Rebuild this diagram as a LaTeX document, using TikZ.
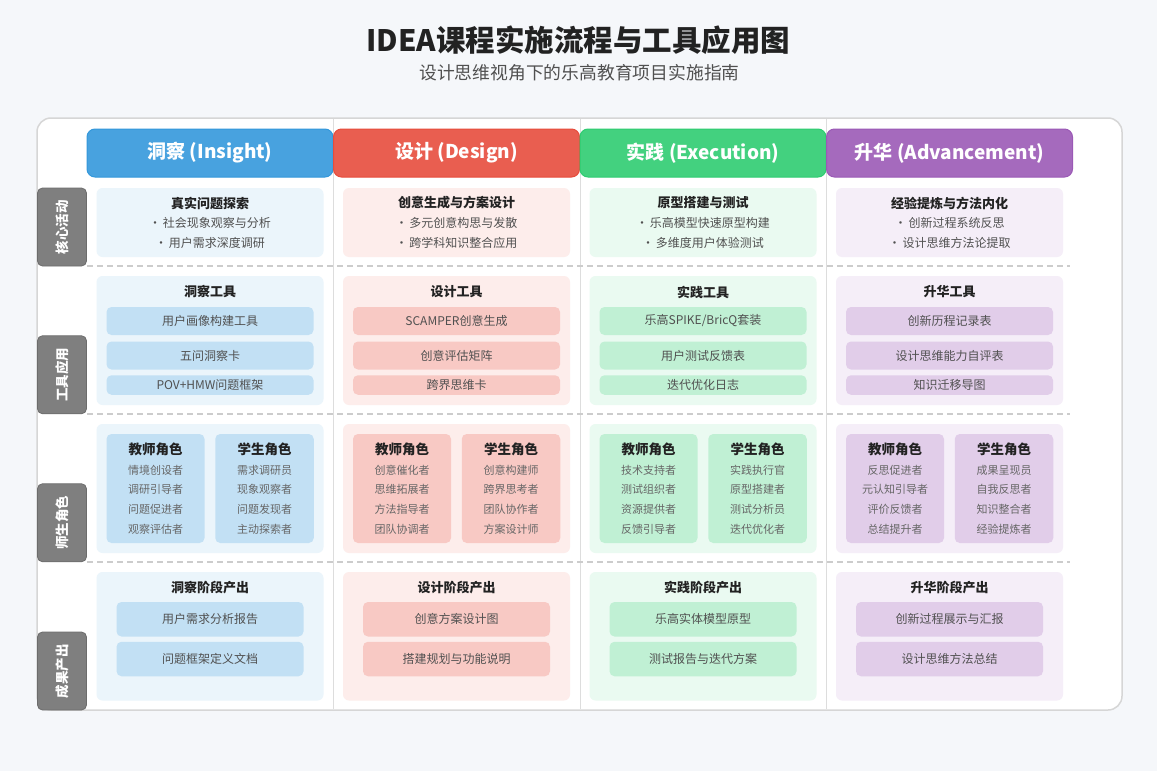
\documentclass[tikz,border=0pt]{standalone}
\usepackage{fontspec}
\setmainfont{Noto Sans CJK SC}
\definecolor{cblue}{HTML}{3498DB}
\definecolor{cred}{HTML}{E74C3C}
\definecolor{cgreen}{HTML}{2ECC71}
\definecolor{cpurple}{HTML}{9B59B6}
\definecolor{bgc}{HTML}{F5F7FA}
\definecolor{ink}{HTML}{222222}
\definecolor{subink}{HTML}{505050}
\definecolor{roleink}{HTML}{666666}
\definecolor{labc}{HTML}{7F7F7F}
\definecolor{sepc}{HTML}{DDDDDD}
\definecolor{dashc}{HTML}{CCCCCC}
\definecolor{panelc}{HTML}{D6D6D6}
\tikzset{
  header/.style={rounded corners=8pt, fill=#1!90!white, draw=#1, line width=1pt,
    minimum width=246pt, minimum height=48pt, text=white, inner sep=0pt,
    font=\fontsize{19}{22}\selectfont\bfseries},
  cell/.style={rounded corners=6pt, fill=#1!10!white, inner sep=0pt, minimum width=227pt},
  subbox/.style={rounded corners=5pt, fill=#1!30!white, inner sep=0pt, text=subink,
    font=\fontsize{12}{14}\selectfont},
  ctitle/.style={text=ink, inner sep=0pt, font=\fontsize{13}{15}\selectfont\bfseries},
  rtitle/.style={text=ink, inner sep=0pt, font=\fontsize{13.5}{16}\selectfont\bfseries},
  bulletitem/.style={text=subink, inner sep=0pt, font=\fontsize{12}{14}\selectfont},
  roleitems/.style={text=roleink, inner sep=0pt, align=center, font=\fontsize{11}{19.7}\selectfont},
  rowlabel/.style={rounded corners=5pt, fill=labc, draw=labc!85!black, line width=0.8pt,
    minimum width=49pt, minimum height=78pt, inner sep=0pt},
  labtext/.style={rotate=90, text=white, inner sep=0pt, font=\fontsize{13.5}{15}\selectfont\bfseries},
}
\newcommand\phasehead[6]{%
  \pgfmathsetmacro\colx{#1*246.5}%
  \begin{scope}[xshift=\colx pt]
    \node[header=#2] (hd#1) at (210,153) {\raisebox{-1.8pt}{#3}};
    \node[cell=#2, minimum height=69pt] (act#1) at (210,222.5) {};
    \node[ctitle] (actt#1) at (210,203) {#4};
    \node[bulletitem] (aba#1) at (210,223) {·\,#5};
    \node[bulletitem] (abb#1) at (210,243) {·\,#6};
  \end{scope}}
\newcommand\phasetools[6]{%
  \pgfmathsetmacro\colx{#1*246.5}%
  \begin{scope}[xshift=\colx pt]
    \node[cell=#2, minimum height=129pt] (tl#1) at (210,340.5) {};
    \node[ctitle] (tlt#1) at (210,292) {#3};
    \node[subbox=#2, minimum width=207pt, minimum height=28pt] (ta#1) at (210,321) {#4};
    \node[subbox=#2, minimum width=207pt, minimum height=28pt] (tb#1) at (210,355.5) {#5};
    \node[subbox=#2, minimum width=207pt, minimum height=19.5pt] (tc#1) at (210,385) {#6};
  \end{scope}}
\newcommand\phaseroles[4]{%
  \pgfmathsetmacro\colx{#1*246.5}%
  \begin{scope}[xshift=\colx pt]
    \node[cell=#2, minimum height=129pt] (rl#1) at (210,488.5) {};
    \node[subbox=#2, minimum width=98pt, minimum height=109pt] (te#1) at (155.5,488.5) {};
    \node[subbox=#2, minimum width=98.5pt, minimum height=109pt] (st#1) at (264.5,488.5) {};
    \node[rtitle] (tet#1) at (155.5,449) {教师角色};
    \node[rtitle] (stt#1) at (264.5,449) {学生角色};
    \node[roleitems] (tei#1) at (155.5,499.5) {#3};
    \node[roleitems] (sti#1) at (264.5,499.5) {#4};
  \end{scope}}
\newcommand\phaseout[5]{%
  \pgfmathsetmacro\colx{#1*246.5}%
  \begin{scope}[xshift=\colx pt]
    \node[cell=#2, minimum height=128.5pt] (ou#1) at (210,636.25) {};
    \node[ctitle] (out#1) at (210,588) {#3};
    \node[subbox=#2, minimum width=187pt, minimum height=34.5pt] (oa#1) at (210,619.25) {#4};
    \node[subbox=#2, minimum width=187pt, minimum height=34.5pt] (ob#1) at (210,659) {#5};
  \end{scope}}
\begin{document}
\begin{tikzpicture}[x=1pt, y=-1pt]
  \useasboundingbox (0,0) rectangle (1157,771);
  \fill[bgc] (0,0) rectangle (1157,771);
  \node[text=ink, font=\fontsize{29.5}{33}\selectfont\bfseries] (title) at (578.5,40) {IDEA课程实施流程与工具应用图};
  \node[text=subink, font=\fontsize{17.8}{21}\selectfont] (subtitle) at (579.5,73) {设计思维视角下的乐高教育项目实施指南};
  \node[draw=panelc, fill=white, line width=1.5pt, rounded corners=14pt,
        minimum width=1085pt, minimum height=592pt, inner sep=0pt] (panel) at (579.5,414) {};
  \foreach \sx in {333.5,580,826.5}
    \draw[sepc, line width=1pt] (\sx,118.8) -- (\sx,709.2);
  \foreach \sy in {266,414,562}
    \draw[dashc, line width=2pt, dash pattern=on 6pt off 4pt] (87,\sy) -- (1070,\sy);

  \phasehead{0}{cblue}{洞察 (Insight)}{真实问题探索}{社会现象观察与分析}{用户需求深度调研}
  \phasehead{1}{cred}{设计 (Design)}{创意生成与方案设计}{多元创意构思与发散}{跨学科知识整合应用}
  \phasehead{2}{cgreen}{实践 (Execution)}{原型搭建与测试}{乐高模型快速原型构建}{多维度用户体验测试}
  \phasehead{3}{cpurple}{升华 (Advancement)}{经验提炼与方法内化}{创新过程系统反思}{设计思维方法论提取}

  \phasetools{0}{cblue}{洞察工具}{用户画像构建工具}{五问洞察卡}{POV+HMW问题框架}
  \phasetools{1}{cred}{设计工具}{SCAMPER创意生成}{创意评估矩阵}{跨界思维卡}
  \phasetools{2}{cgreen}{实践工具}{乐高SPIKE/BricQ套装}{用户测试反馈表}{迭代优化日志}
  \phasetools{3}{cpurple}{升华工具}{创新历程记录表}{设计思维能力自评表}{知识迁移导图}

  \phaseroles{0}{cblue}{情境创设者\\调研引导者\\问题促进者\\观察评估者}{需求调研员\\现象观察者\\问题发现者\\主动探索者}
  \phaseroles{1}{cred}{创意催化者\\思维拓展者\\方法指导者\\团队协调者}{创意构建师\\跨界思考者\\团队协作者\\方案设计师}
  \phaseroles{2}{cgreen}{技术支持者\\测试组织者\\资源提供者\\反馈引导者}{实践执行官\\原型搭建者\\测试分析员\\迭代优化者}
  \phaseroles{3}{cpurple}{反思促进者\\元认知引导者\\评价反馈者\\总结提升者}{成果呈现员\\自我反思者\\知识整合者\\经验提炼者}

  \phaseout{0}{cblue}{洞察阶段产出}{用户需求分析报告}{问题框架定义文档}
  \phaseout{1}{cred}{设计阶段产出}{创意方案设计图}{搭建规划与功能说明}
  \phaseout{2}{cgreen}{实践阶段产出}{乐高实体模型原型}{测试报告与迭代方案}
  \phaseout{3}{cpurple}{升华阶段产出}{创新过程展示与汇报}{设计思维方法总结}

  \node[rowlabel] (lab1) at (62,227) {};
  \node[labtext] (labt1) at (lab1.center) {核心活动};
  \node[rowlabel] (lab2) at (62,374.75) {};
  \node[labtext] (labt2) at (lab2.center) {工具应用};
  \node[rowlabel] (lab3) at (62,522.75) {};
  \node[labtext] (labt3) at (lab3.center) {师生角色};
  \node[rowlabel] (lab4) at (62,671) {};
  \node[labtext] (labt4) at (lab4.center) {成果产出};
\end{tikzpicture}
\end{document}
